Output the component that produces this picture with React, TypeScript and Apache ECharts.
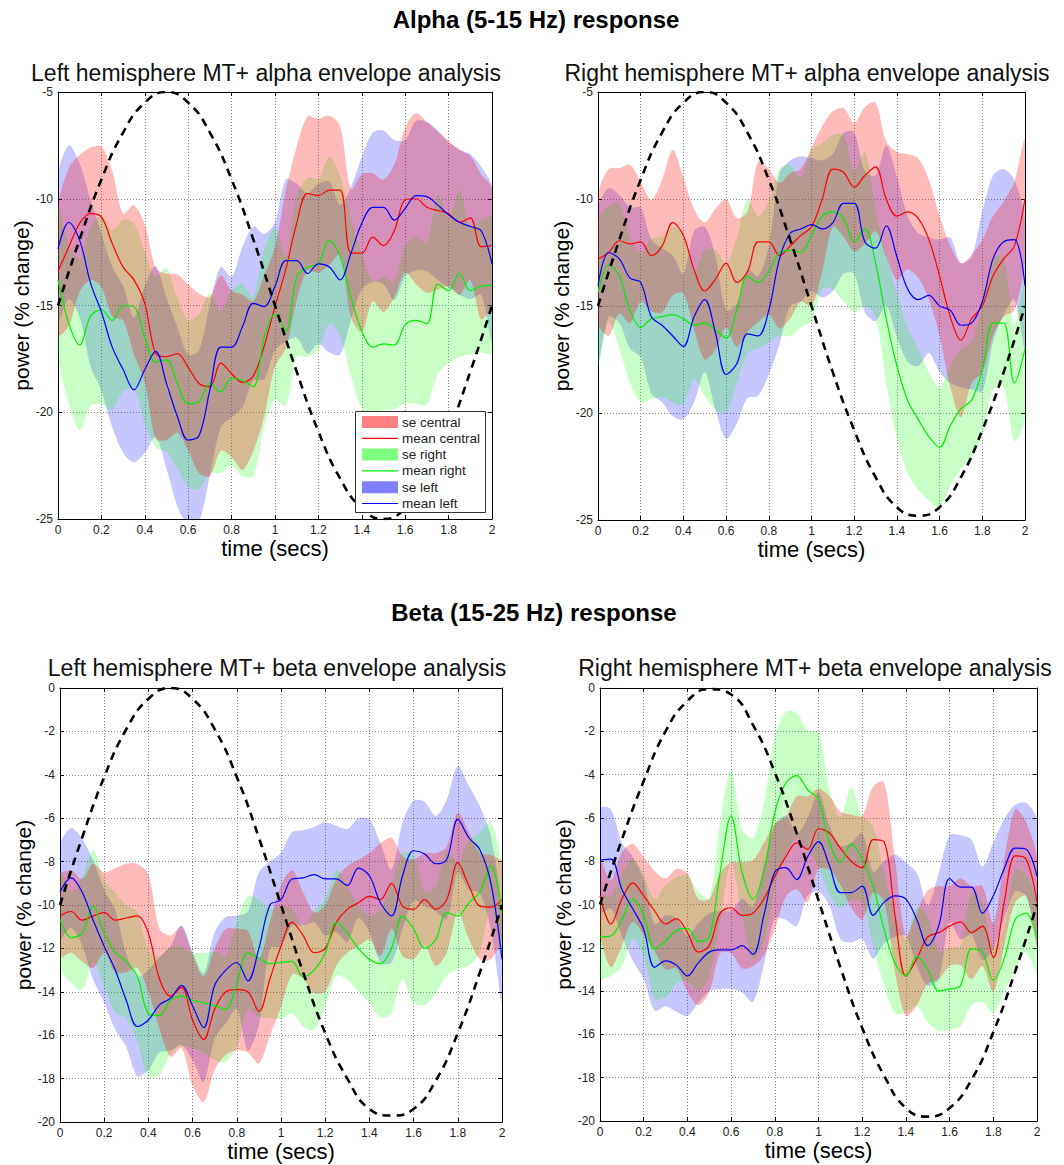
import React, { useEffect, useRef } from 'react';
import * as echarts from 'echarts';

// ---------- data ----------
const TIME = [0, 0.05, 0.1, 0.15, 0.2, 0.25, 0.3, 0.35, 0.4, 0.45, 0.5, 0.55, 0.6, 0.65, 0.7, 0.75, 0.8, 0.85, 0.9, 0.95, 1.0,
  1.05, 1.1, 1.15, 1.2, 1.25, 1.3, 1.35, 1.4, 1.45, 1.5, 1.55, 1.6, 1.65, 1.7, 1.75, 1.8, 1.85, 1.9, 1.95, 2.0];
const SINE_TIME = [0, 0.1, 0.2, 0.3, 0.4, 0.5, 0.6, 0.7, 0.8, 0.9, 1.0, 1.1, 1.2, 1.3, 1.4, 1.5, 1.6, 1.7, 1.8, 1.9, 2.0];

const X_TICKS = [0, 0.2, 0.4, 0.6, 0.8, 1, 1.2, 1.4, 1.6, 1.8, 2];
const Y_TICKS_ALPHA = [-25, -20, -15, -10, -5];
const Y_TICKS_BETA = [-20, -18, -16, -14, -12, -10, -8, -6, -4, -2, 0];

const SINE_ALPHA_LEFT = [-15, -11.9, -9.1, -6.9, -5.5, -5.0, -5.5, -6.9, -9.1, -11.9, -15, -18.1, -20.9, -23.1, -24.5, -25, -24.5, -23.1, -20.9, -18.1, -15];
const SINE_ALPHA_RIGHT = [-15, -11.9, -9.1, -6.9, -5.5, -5.0, -5.5, -6.9, -9.1, -11.9, -15, -18.1, -20.8, -23.0, -24.4, -24.8, -24.4, -23.0, -20.8, -18.1, -15];
const SINE_BETA_LEFT = [-10, -6.9, -4.1, -1.9, -0.5, 0, -0.5, -1.9, -4.1, -6.9, -10, -13.1, -15.9, -18.0, -19.4, -19.7, -19.4, -18.1, -15.9, -13.1, -10];
const SINE_BETA_RIGHT = [-10, -7.0, -4.3, -2.0, -0.6, -0.05, -0.3, -1.7, -3.9, -6.7, -9.8, -12.9, -15.7, -17.9, -19.4, -19.8, -19.4, -18.1, -15.9, -13.1, -10];

// Alpha, left hemisphere
const A_L_CENTRAL_MEAN = [-13.4, -12.25, -11.15, -10.7, -10.85, -12.1, -13.2, -13.8, -14.9, -17.25, -17.4, -17.25, -17.9, -18.65, -18.8, -17.7, -18.2, -18.6, -18.3, -16.9, -15.05,
  -13.3, -11.15, -9.75, -9.85, -9.6, -9.6, -12.55, -12.55, -11.8, -12.2, -11.5, -10.05, -10.0, -10.4, -10.55, -10.7, -11.1, -10.9, -12.25, -12.2];
const A_L_CENTRAL_SE = [3.0, 3.7, 3.2, 3.1, 3.3, 3.4, 2.5, 3.5, 3.7, 4.0, 3.9, 3.7, 3.9, 4.2, 4.2, 4.1, 3.9, 4.1, 3.5, 3.3, 2.8,
  3.7, 3.6, 3.6, 3.6, 3.5, 3.0, 3.0, 3.7, 3.0, 3.1, 3.1, 3.4, 4.0, 4.0, 3.7, 3.4, 3.4, 2.9, 3.4, 2.7];
const A_L_RIGHT_MEAN = [-13.8, -15.85, -16.85, -15.5, -15.2, -15.7, -15.0, -15.05, -16.5, -17.65, -17.55, -18.65, -19.6, -19.5, -18.65, -19.05, -18.4, -18.5, -18.8, -16.5, -15.4,
  -16.2, -13.65, -13.2, -13.05, -11.95, -12.7, -14.6, -16.2, -16.95, -16.8, -16.85, -15.9, -15.7, -15.85, -14.0, -14.3, -13.5, -14.3, -14.1, -14.05];
const A_L_RIGHT_SE = [3.4, 3.75, 4.0, 4.2, 4.4, 4.2, 4.0, 3.9, 4.0, 4.0, 4.3, 4.0, 3.9, 4.1, 4.2, 3.8, 4.1, 4.5, 4.2, 4.2, 4.0,
  3.5, 3.75, 4.2, 4.0, 3.9, 3.75, 3.7, 3.6, 3.1, 3.1, 3.0, 3.7, 3.9, 3.8, 4.2, 3.4, 3.9, 3.0, 3.1, 3.2];
const A_L_LEFT_MEAN = [-12.35, -11.1, -11.95, -13.95, -15.3, -16.95, -18.0, -18.95, -18.0, -17.15, -18.65, -20.2, -21.3, -21.1, -18.95, -16.95, -16.95, -16.0, -14.9, -15.05, -14.1,
  -12.9, -12.9, -13.5, -13.05, -13.2, -13.8, -12.55, -11.15, -10.4, -10.4, -11.0, -10.45, -9.85, -9.9, -10.3, -10.75, -11.1, -11.3, -11.5, -13.05];
const A_L_LEFT_SE = [3.4, 3.6, 3.6, 3.9, 3.7, 3.75, 3.9, 3.4, 3.9, 4.0, 4.0, 4.2, 4.0, 4.0, 4.0, 3.75, 3.3, 3.75, 3.6, 3.4, 3.0,
  3.8, 3.6, 3.75, 3.75, 4.0, 3.5, 3.1, 3.1, 3.5, 3.6, 3.75, 3.2, 3.5, 3.5, 3.5, 3.4, 3.4, 3.4, 3.0, 3.6];

// Alpha, right hemisphere
const A_R_CENTRAL_MEAN = [-12.8, -12.5, -11.95, -12.1, -12.0, -12.65, -12.2, -11.1, -11.7, -13.3, -14.3, -13.75, -13.0, -13.9, -13.4, -12.0, -12.0, -12.65, -12.2, -11.7, -11.3,
  -10.0, -8.6, -8.75, -9.45, -8.9, -8.5, -10.0, -10.8, -10.6, -10.9, -11.9, -13.6, -15.5, -16.6, -15.6, -15.0, -13.6, -12.8, -12.2, -10.0];
const A_R_CENTRAL_SE = [3.0, 3.9, 3.4, 3.7, 2.8, 2.6, 3.1, 3.4, 2.7, 2.8, 3.2, 3.3, 3.0, 3.0, 2.8, 3.75, 3.4, 3.4, 3.4, 3.1, 3.7,
  3.4, 2.7, 3.0, 3.0, 3.2, 3.0, 2.7, 3.0, 2.7, 2.8, 2.8, 2.8, 3.3, 3.6, 3.0, 3.1, 2.8, 2.7, 3.0, 2.8];
const A_R_RIGHT_MEAN = [-14.4, -13.05, -13.6, -15.2, -16.0, -15.6, -15.5, -15.4, -15.6, -15.9, -15.8, -16.1, -16.5, -15.2, -13.6, -13.9, -13.4, -12.5, -12.4, -12.5, -11.7,
  -10.8, -10.6, -10.9, -12.0, -11.4, -13.0, -15.6, -17.8, -19.4, -20.3, -21.1, -21.6, -20.6, -19.8, -19.4, -18.0, -15.8, -15.8, -18.6, -17.0];
const A_R_RIGHT_SE = [3.4, 2.7, 3.4, 3.4, 3.5, 3.75, 3.75, 4.1, 4.0, 2.5, 3.4, 3.75, 3.5, 3.4, 3.6, 3.1, 3.3, 3.9, 4.0, 3.5, 4.0,
  3.4, 3.6, 3.9, 3.3, 3.6, 2.5, 3.0, 3.4, 3.4, 3.3, 3.0, 2.8, 2.8, 2.8, 2.7, 3.0, 3.1, 3.0, 2.7, 3.3];
const A_R_LEFT_MEAN = [-14.05, -12.5, -12.8, -13.7, -13.9, -15.5, -15.9, -16.4, -16.9, -15.5, -14.7, -16.25, -18.2, -17.7, -16.3, -16.4, -15.2, -12.8, -11.6, -11.4, -11.2,
  -11.4, -11.1, -10.2, -10.2, -12.0, -12.3, -11.25, -12.7, -14.2, -14.7, -14.5, -15.0, -15.2, -15.9, -15.8, -14.8, -12.8, -12.0, -11.9, -14.05];
const A_R_LEFT_SE = [3.6, 3.0, 3.0, 3.3, 3.5, 3.6, 3.6, 3.75, 3.4, 4.0, 3.4, 3.6, 3.0, 2.8, 3.0, 2.8, 3.0, 4.0, 3.4, 3.4, 3.1,
  3.2, 3.2, 3.3, 3.3, 3.3, 3.4, 3.75, 3.75, 3.4, 3.1, 2.7, 3.1, 3.4, 2.9, 3.1, 4.2, 3.9, 3.4, 2.8, 3.0];

// Beta, left hemisphere
const B_L_CENTRAL_MEAN = [-10.5, -10.3, -10.7, -10.5, -10.35, -10.7, -10.6, -10.5, -11.3, -13.4, -14.2, -13.8, -15.3, -16.2, -14.8, -14.0, -13.9, -14.0, -14.9, -13.4, -11.9,
  -10.8, -11.4, -12.2, -12.0, -10.8, -10.2, -9.9, -9.6, -9.75, -9.0, -10.05, -10.2, -9.75, -10.2, -9.75, -8.05, -9.1, -10.05, -10.1, -9.75];
const B_L_CENTRAL_SE = [1.9, 1.9, 1.9, 2.4, 1.85, 2.4, 2.5, 2.4, 2.7, 2.3, 2.8, 2.8, 3.0, 2.9, 2.8, 2.9, 2.8, 2.8, 2.4, 2.6, 2.8,
  2.4, 2.0, 1.85, 2.0, 2.0, 2.0, 2.0, 2.0, 2.6, 2.1, 2.3, 2.3, 2.15, 2.6, 2.45, 2.3, 2.45, 2.45, 2.4, 1.7];
const B_L_RIGHT_MEAN = [-10.65, -11.5, -11.3, -10.05, -11.3, -12.2, -12.6, -13.3, -15.0, -15.1, -14.4, -14.2, -14.4, -14.5, -14.65, -14.8, -13.6, -12.2, -12.45, -12.7, -12.65,
  -12.6, -13.3, -13.0, -12.2, -10.8, -11.3, -12.0, -12.5, -12.7, -12.0, -10.5, -11.1, -12.0, -11.6, -10.35, -10.5, -9.9, -9.4, -8.2, -10.35];
const B_L_RIGHT_SE = [2.15, 2.1, 2.6, 2.6, 2.45, 2.75, 2.6, 3.0, 2.9, 2.75, 2.45, 2.3, 2.2, 2.3, 2.5, 2.45, 2.9, 2.6, 2.7, 2.5, 2.6,
  2.4, 2.3, 2.75, 2.45, 2.45, 2.15, 2.0, 2.0, 2.5, 3.0, 2.9, 3.4, 2.6, 2.45, 2.9, 2.45, 2.9, 2.75, 2.0, 2.0];
const B_L_LEFT_MEAN = [-9.4, -8.75, -9.4, -10.7, -11.9, -13.0, -14.4, -15.6, -15.3, -14.6, -14.3, -13.7, -14.65, -15.65, -13.7, -13.0, -12.65, -13.5, -12.0, -10.0, -9.75,
  -8.8, -8.75, -8.6, -8.8, -8.8, -9.1, -8.3, -8.65, -9.9, -10.5, -8.65, -7.5, -7.65, -8.1, -7.9, -6.05, -6.9, -7.45, -9.0, -12.5];
const B_L_LEFT_SE = [2.15, 2.3, 2.45, 2.75, 2.6, 2.75, 2.15, 2.3, 2.3, 2.2, 2.4, 2.75, 2.5, 2.5, 2.45, 2.45, 2.15, 3.2, 3.5, 2.0, 2.15,
  2.15, 2.2, 2.2, 2.6, 2.45, 2.6, 2.3, 2.6, 2.75, 2.15, 2.45, 2.3, 2.4, 2.2, 2.75, 2.45, 2.4, 2.0, 2.15, 2.0];

// Beta, right hemisphere
const B_R_CENTRAL_MEAN = [-9.6, -10.9, -9.75, -9.0, -9.6, -10.3, -10.9, -10.65, -11.3, -12.2, -11.9, -10.4, -10.15, -10.5, -10.4, -9.75, -8.7, -7.8, -7.15, -7.45, -6.5,
  -6.7, -7.4, -8.0, -8.3, -7.0, -7.1, -10.5, -13.3, -12.5, -11.5, -11.3, -11.0, -10.8, -11.3, -11.0, -12.45, -9.9, -7.75, -7.9, -9.9];
const B_R_CENTRAL_SE = [1.7, 2.0, 2.15, 1.8, 1.8, 1.85, 2.1, 2.3, 2.75, 2.45, 2.15, 1.85, 2.1, 2.45, 2.45, 2.6, 2.45, 1.85, 2.15, 2.45, 1.85,
  1.7, 1.7, 2.15, 2.4, 2.45, 2.75, 2.6, 1.85, 2.15, 2.15, 2.15, 1.85, 2.0, 2.15, 1.85, 1.6, 2.0, 2.15, 1.7, 2.0];
const B_R_RIGHT_MEAN = [-11.5, -11.45, -10.7, -9.75, -10.5, -12.05, -11.7, -11.2, -11.1, -11.7, -11.5, -8.5, -5.9, -8.5, -9.75, -8.5, -5.75, -4.4, -4.05, -4.7, -5.15,
  -7.15, -8.05, -7.2, -7.9, -9.15, -11.15, -12.7, -13.3, -12.4, -13.0, -14.0, -13.9, -13.75, -12.05, -12.2, -13.5, -12.5, -10.7, -10.4, -11.6];
const B_R_RIGHT_SE = [1.9, 1.85, 2.15, 1.85, 1.9, 2.3, 2.6, 2.45, 2.45, 2.3, 1.8, 2.3, 2.15, 2.0, 2.8, 3.2, 3.5, 3.3, 2.9, 2.75, 3.1,
  2.45, 2.1, 2.6, 2.0, 2.75, 2.6, 2.3, 1.7, 2.3, 2.45, 1.85, 1.9, 1.85, 2.6, 2.3, 1.5, 1.5, 2.3, 1.8, 1.55];
const B_R_LEFT_MEAN = [-7.95, -7.9, -9.3, -10.2, -11.15, -12.9, -12.6, -12.8, -13.3, -12.7, -12.2, -12.1, -12.1, -11.9, -12.3, -10.5, -8.5, -8.3, -8.85, -7.8, -7.1,
  -8.2, -9.45, -9.45, -9.15, -10.5, -9.9, -9.6, -9.75, -10.7, -11.9, -11.0, -8.8, -9.2, -9.2, -10.4, -9.6, -8.35, -7.4, -7.45, -8.7];
const B_R_LEFT_SE = [2.4, 2.3, 2.15, 2.4, 2.3, 2.0, 2.1, 2.15, 1.85, 1.85, 1.8, 1.8, 1.8, 2.15, 2.2, 2.3, 2.15, 2.4, 2.15, 1.8, 2.3,
  1.85, 2.15, 2.3, 2.45, 2.0, 1.9, 1.9, 1.7, 2.15, 1.85, 2.45, 2.0, 2.4, 2.2, 2.15, 2.45, 2.3, 2.0, 2.15, 2.6];

const SUBTITLES = [
  'Left hemisphere MT+ alpha envelope analysis',
  'Right hemisphere MT+ alpha envelope analysis',
  'Left hemisphere MT+ beta envelope analysis',
  'Right hemisphere MT+ beta envelope analysis',
];
const LEGEND_LABELS = ['se central', 'mean central', 'se right', 'mean right', 'se left', 'mean left'];

// ---------- layout / style ----------
const FONT = '"Liberation Sans", Arial, Helvetica, sans-serif';
const COLORS = { central: '#ff0000', right: '#00ee00', left: '#0000ff' };
const BAND = { central: 'rgba(255,0,0,0.27)', right: 'rgba(0,255,0,0.22)', left: 'rgba(0,0,255,0.22)' };
const LEG_PATCH = { central: '#ff8080', right: '#80ff80', left: '#8080ff' };

const PANELS = [
  { grid: { left: 58, top: 92, width: 434, height: 427 }, yTicks: Y_TICKS_ALPHA, sine: SINE_ALPHA_LEFT, titleX: 266, titleY: 73,
    central: [A_L_CENTRAL_MEAN, A_L_CENTRAL_SE], right: [A_L_RIGHT_MEAN, A_L_RIGHT_SE], left: [A_L_LEFT_MEAN, A_L_LEFT_SE] },
  { grid: { left: 598, top: 92, width: 427, height: 428 }, yTicks: Y_TICKS_ALPHA, sine: SINE_ALPHA_RIGHT, titleX: 807, titleY: 73,
    central: [A_R_CENTRAL_MEAN, A_R_CENTRAL_SE], right: [A_R_RIGHT_MEAN, A_R_RIGHT_SE], left: [A_R_LEFT_MEAN, A_R_LEFT_SE] },
  { grid: { left: 60, top: 688, width: 442, height: 434 }, yTicks: Y_TICKS_BETA, sine: SINE_BETA_LEFT, titleX: 277, titleY: 668,
    central: [B_L_CENTRAL_MEAN, B_L_CENTRAL_SE], right: [B_L_RIGHT_MEAN, B_L_RIGHT_SE], left: [B_L_LEFT_MEAN, B_L_LEFT_SE] },
  { grid: { left: 600, top: 688, width: 437, height: 433 }, yTicks: Y_TICKS_BETA, sine: SINE_BETA_RIGHT, titleX: 815, titleY: 668,
    central: [B_R_CENTRAL_MEAN, B_R_CENTRAL_SE], right: [B_R_RIGHT_MEAN, B_R_RIGHT_SE], left: [B_R_LEFT_MEAN, B_R_LEFT_SE] },
];

function bandSeries(idx: number, mean: number[], se: number[], fill: string, z: number) {
  return {
    type: 'custom',
    xAxisIndex: idx,
    yAxisIndex: idx,
    clip: true,
    silent: true,
    z,
    data: TIME.map((t, i) => [t, mean[i]]),
    renderItem: (params: any, api: any) => {
      if (params.dataIndex !== 0) return null;
      const pts: number[][] = [];
      for (let i = 0; i < TIME.length; i++) pts.push(api.coord([TIME[i], mean[i] + se[i]]));
      for (let i = TIME.length - 1; i >= 0; i--) pts.push(api.coord([TIME[i], mean[i] - se[i]]));
      return { type: 'polygon', shape: { points: pts, smooth: 0.3 }, style: { fill, stroke: null } };
    },
  };
}

function lineSeries(idx: number, xs: number[], ys: number[], color: string, width: number, dash?: number[]) {
  return {
    type: 'line',
    xAxisIndex: idx,
    yAxisIndex: idx,
    showSymbol: false,
    symbol: 'none',
    smooth: 0.35,
    silent: true,
    z: 3,
    lineStyle: { color, width, type: dash || 'solid' },
    data: xs.map((t, i) => [t, ys[i]]),
  };
}

function buildOption() {
  const grid: any[] = [];
  const xAxis: any[] = [];
  const yAxis: any[] = [];
  const series: any[] = [];

  PANELS.forEach((p, i) => {
    grid.push({ ...p.grid, containLabel: false });
    const ymin = p.yTicks[0];
    const ymax = p.yTicks[p.yTicks.length - 1];
    const yint = p.yTicks[1] - p.yTicks[0];
    xAxis.push({
      gridIndex: i, type: 'value', min: X_TICKS[0], max: X_TICKS[X_TICKS.length - 1], interval: X_TICKS[1] - X_TICKS[0],
      axisLine: { show: true, onZero: false, lineStyle: { color: '#000', width: 1 } },
      axisTick: { show: true, inside: true, length: 4, lineStyle: { color: '#000' } },
      axisLabel: { fontSize: 12, color: '#222', margin: 5, fontFamily: FONT, formatter: (v: number) => String(Math.round(v * 10) / 10) },
      splitLine: { show: true, lineStyle: { color: '#888', type: [1, 2], width: 1 } },
      name: 'time (secs)', nameLocation: 'middle', nameGap: 18,
      nameTextStyle: { fontSize: 22, color: '#000', fontFamily: FONT },
    });
    yAxis.push({
      gridIndex: i, type: 'value', min: ymin, max: ymax, interval: yint,
      axisLine: { show: true, onZero: false, lineStyle: { color: '#000', width: 1 } },
      axisTick: { show: true, inside: true, length: 4, lineStyle: { color: '#000' } },
      axisLabel: { fontSize: 12, color: '#222', margin: 5, fontFamily: FONT },
      splitLine: { show: true, lineStyle: { color: '#888', type: [1, 2], width: 1 } },
      name: 'power (% change)', nameLocation: 'middle', nameGap: 25,
      nameTextStyle: { fontSize: 21, color: '#000', fontFamily: FONT },
    });
  });
  // mirrored box axes (top / right)
  PANELS.forEach((p, i) => {
    const ymin = p.yTicks[0];
    const ymax = p.yTicks[p.yTicks.length - 1];
    const yint = p.yTicks[1] - p.yTicks[0];
    xAxis.push({
      gridIndex: i, type: 'value', position: 'top', min: X_TICKS[0], max: X_TICKS[X_TICKS.length - 1], interval: X_TICKS[1] - X_TICKS[0],
      axisLine: { show: true, onZero: false, lineStyle: { color: '#000', width: 1 } },
      axisTick: { show: true, inside: true, length: 4, lineStyle: { color: '#000' } },
      axisLabel: { show: false }, splitLine: { show: false },
    });
    yAxis.push({
      gridIndex: i, type: 'value', position: 'right', min: ymin, max: ymax, interval: yint,
      axisLine: { show: true, onZero: false, lineStyle: { color: '#000', width: 1 } },
      axisTick: { show: true, inside: true, length: 4, lineStyle: { color: '#000' } },
      axisLabel: { show: false }, splitLine: { show: false },
    });
  });

  PANELS.forEach((p, i) => {
    // blue at the bottom, green, red on top
    series.push(bandSeries(i, p.left[0], p.left[1], BAND.left, 1));
    series.push(bandSeries(i, p.right[0], p.right[1], BAND.right, 1));
    series.push(bandSeries(i, p.central[0], p.central[1], BAND.central, 1));
    series.push(lineSeries(i, TIME, p.central[0], COLORS.central, 1.2));
    series.push(lineSeries(i, TIME, p.right[0], COLORS.right, 1.2));
    series.push(lineSeries(i, TIME, p.left[0], COLORS.left, 1.2));
    const s: any = lineSeries(i, SINE_TIME, p.sine, '#000', 2.6, [8, 6]);
    s.smooth = 0.5;
    s.z = 4;
    series.push(s);
  });

  const graphic: any[] = [
    { type: 'text', x: 536, y: 19, z: 100, style: { text: 'Alpha (5-15 Hz) response', font: `bold 24px ${FONT}`, fill: '#000', align: 'center', verticalAlign: 'middle', textAlign: 'center', textVerticalAlign: 'middle' } },
    { type: 'text', x: 534, y: 612, z: 100, style: { text: 'Beta (15-25 Hz) response', font: `bold 24px ${FONT}`, fill: '#000', align: 'center', verticalAlign: 'middle', textAlign: 'center', textVerticalAlign: 'middle' } },
  ];
  PANELS.forEach((p, i) => {
    graphic.push({ type: 'text', x: p.titleX, y: p.titleY, z: 100, style: { text: SUBTITLES[i], font: `23px ${FONT}`, fill: '#111', align: 'center', verticalAlign: 'middle', textAlign: 'center', textVerticalAlign: 'middle' } });
  });

  // legend (top-left panel)
  const legX = 355, legY = 411, rowH = 16.3;
  graphic.push({ type: 'rect', z: 100, shape: { x: legX + 0.5, y: legY + 0.5, width: 130, height: 101 }, style: { fill: '#fff', stroke: '#333', lineWidth: 1 } });
  const keys: ('central' | 'right' | 'left')[] = ['central', 'right', 'left'];
  keys.forEach((k, j) => {
    const yPatch = legY + 11 + rowH * (2 * j);
    const yLine = legY + 11 + rowH * (2 * j + 1);
    graphic.push({ type: 'rect', z: 101, shape: { x: legX + 7, y: yPatch - 6, width: 36, height: 12 }, style: { fill: LEG_PATCH[k] } });
    graphic.push({ type: 'line', z: 101, shape: { x1: legX + 7, y1: yLine, x2: legX + 43, y2: yLine }, style: { stroke: COLORS[k], lineWidth: 1.2 } });
    graphic.push({ type: 'text', z: 101, x: legX + 47, y: yPatch, style: { text: LEGEND_LABELS[2 * j], font: `13.5px ${FONT}`, fill: '#222', align: 'left', verticalAlign: 'middle', textAlign: 'left', textVerticalAlign: 'middle' } });
    graphic.push({ type: 'text', z: 101, x: legX + 47, y: yLine, style: { text: LEGEND_LABELS[2 * j + 1], font: `13.5px ${FONT}`, fill: '#222', align: 'left', verticalAlign: 'middle', textAlign: 'left', textVerticalAlign: 'middle' } });
  });

  return {
    animation: false,
    backgroundColor: '#ffffff',
    textStyle: { fontFamily: FONT },
    grid, xAxis, yAxis, series,
    graphic: { z: 100, elements: graphic },
  };
}

export default function App() {
  const ref = useRef<HTMLDivElement>(null);
  useEffect(() => {
    if (!ref.current) return;
    const chart = echarts.init(ref.current, null, { renderer: 'svg' });
    chart.setOption(buildOption() as any);
    return () => chart.dispose();
  }, []);
  return <div ref={ref} style={{ position: 'absolute', left: 0, top: 0, width: 1064, height: 1165, background: '#fff' }} />;
}
